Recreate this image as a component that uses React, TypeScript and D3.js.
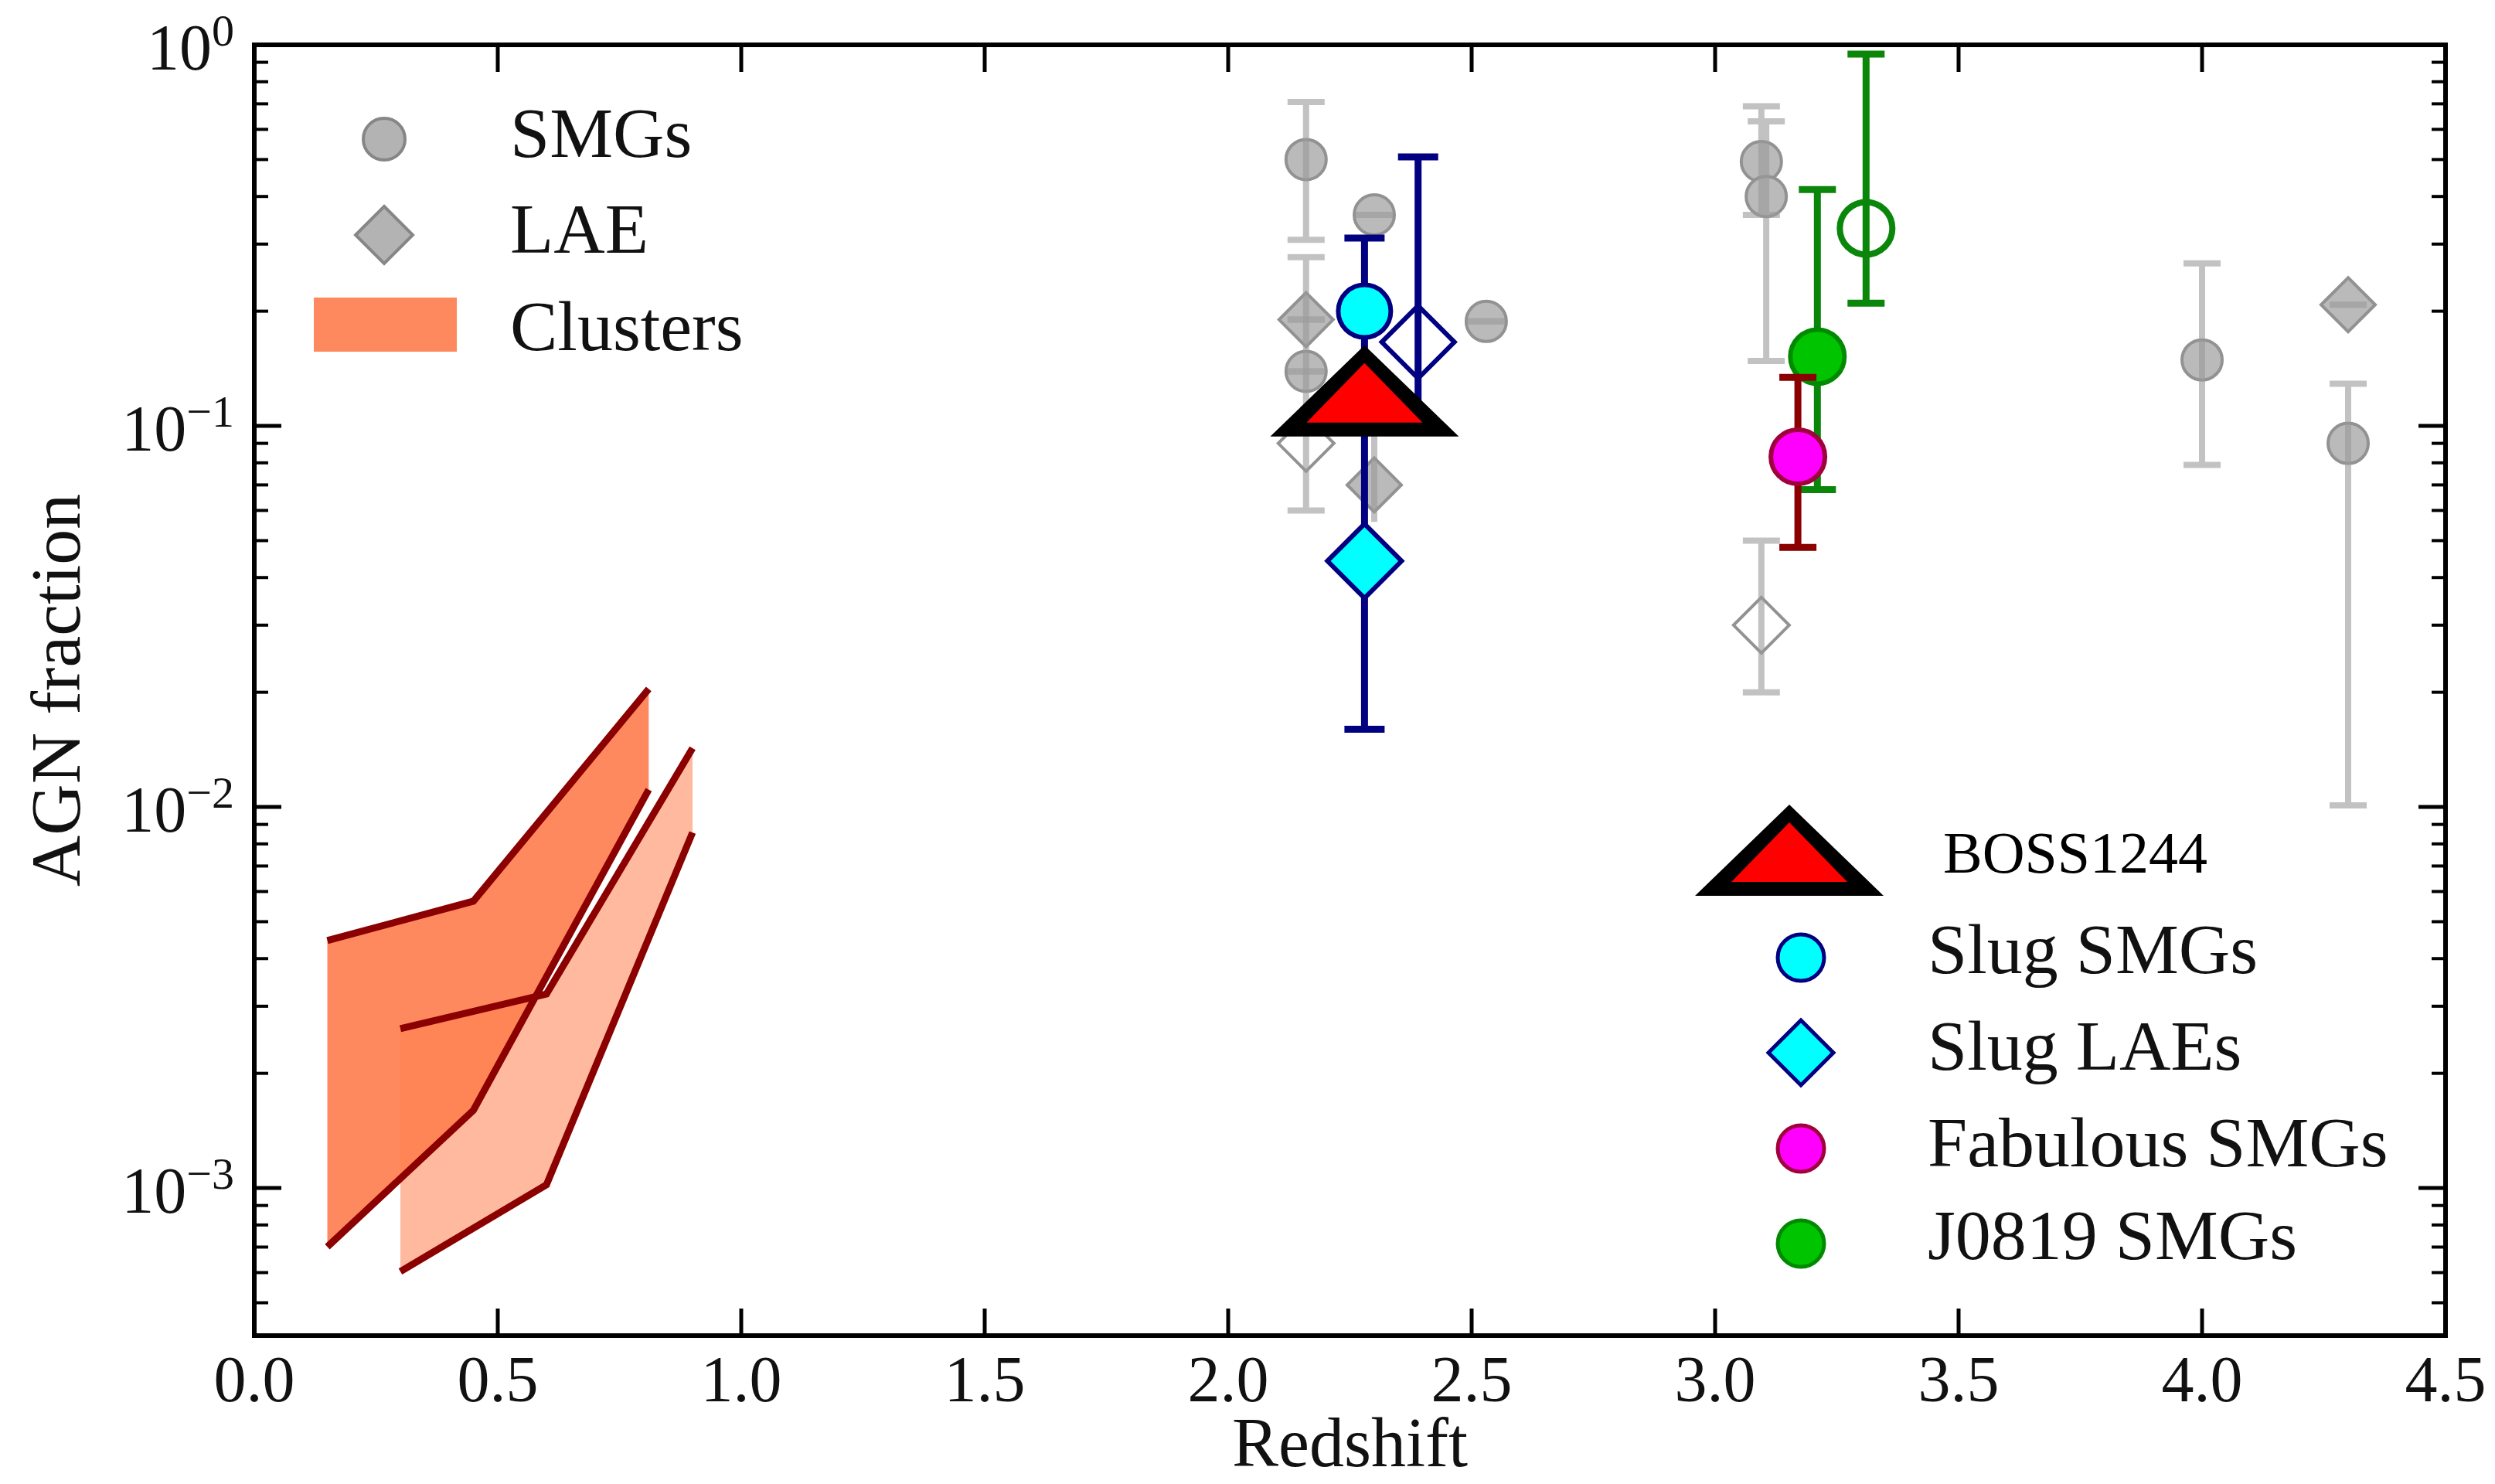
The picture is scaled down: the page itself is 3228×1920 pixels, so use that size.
import React from "react";
import * as d3 from "d3";

// ---------- data ----------
// Literature SMGs (grey circles)
const smgZ = [2.16, 2.16, 2.30, 2.53, 3.095, 3.105, 4.0, 4.3];
const smgF = [0.50, 0.139, 0.358, 0.188, 0.494, 0.40, 0.149, 0.090];
const smgLo = [0.308, 0.139, 0.358, 0.188, 0.358, 0.148, 0.079, 0.0101];
const smgHi = [0.708, 0.139, 0.358, 0.188, 0.69, 0.63, 0.267, 0.129];

// Literature LAEs (grey filled diamonds); laeCap = whether the bar ends carry caps
const laeZ = [2.16, 2.30, 4.3];
const laeF = [0.19, 0.070, 0.208];
const laeLo = [0.19, 0.056, 0.208];
const laeHi = [0.19, 0.10, 0.208];
const laeCap = [true, false, true];

// Literature LAEs (grey open diamonds)
const laeOpenZ = [2.16, 3.095];
const laeOpenF = [0.090, 0.030];
const laeOpenLo = [0.060, 0.020];
const laeOpenHi = [0.277, 0.050];

// Slug nebula field
const slugSmgZ = [2.28];
const slugSmgF = [0.20];
const slugSmgLo = [0.10];
const slugSmgHi = [0.311];

const slugLaeZ = [2.28];
const slugLaeF = [0.0442];
const slugLaeLo = [0.016];
const slugLaeHi = [0.10];

const slugLaeOpenZ = [2.39];
const slugLaeOpenF = [0.166];
const slugLaeOpenLo = [0.10];
const slugLaeOpenHi = [0.508];

// Fabulous field
const fabZ = [3.17];
const fabF = [0.083];
const fabLo = [0.048];
const fabHi = [0.134];

// J0819 field
const j0819Z = [3.21];
const j0819F = [0.152];
const j0819Lo = [0.068];
const j0819Hi = [0.417];

const j0819OpenZ = [3.31];
const j0819OpenF = [0.33];
const j0819OpenLo = [0.21];
const j0819OpenHi = [0.946];

// BOSS1244
const bossZ = [2.28];
const bossF = [0.123];

// Low-redshift clusters (two bands)
const clusterAZ = [0.15, 0.45, 0.81];
const clusterAHi = [0.00446, 0.00566, 0.0204];
const clusterALo = [0.000701, 0.0016, 0.0111];
const clusterBZ = [0.30, 0.60, 0.90];
const clusterBHi = [0.00262, 0.00323, 0.01426];
const clusterBLo = [0.000604, 0.00102, 0.00857];

// Axis ticks
const xTicks = [0, 0.5, 1.0, 1.5, 2.0, 2.5, 3.0, 3.5, 4.0, 4.5];
const yMajor = [1, 0.1, 0.01, 0.001];
const yExp = ["0", "\u22121", "\u22122", "\u22123"];

// ---------- layout ----------
const W = 3228;
const H = 1920;
const left = 329;
const right = 3164;
const top = 58;
const bottom = 1728;

const x = d3.scaleLinear().domain([0, 4.5]).range([left, right]);
const y = d3.scaleLog().domain([4.1e-4, 1]).range([bottom, top]);

const FONT = "'Liberation Serif', 'Times New Roman', serif";

const GREY_FILL = "#b3b3b3";
const GREY_EDGE = "#868686";
const GREY_BAR = "#9a9a9a";
const NAVY = "#000080";
const CYAN = "#00ffff";
const GREEN_BAR = "#0a870a";
const GREEN_FILL = "#00c400";
const DARKRED = "#8b0000";
const CORAL = "#ff7f50";

const diamond = (h: number) => `M0,${-h}L${h},0L0,${h}L${-h},0Z`;
const triOuter = "M0,-60L122,58L-122,58Z";
const triInner = "M0,-37L75,40L-75,40Z";

function ErrorBars({
  zs, lo, hi, color, width, cap, opacity = 1, caps,
}: {
  zs: number[]; lo: number[]; hi: number[]; color: string; width: number; cap: number;
  opacity?: number; caps?: boolean[];
}) {
  return (
    <g stroke={color} strokeWidth={width} opacity={opacity} fill="none">
      {zs.map((z, i) => {
        const cx = x(z);
        const y0 = y(lo[i]);
        const y1 = y(hi[i]);
        const withCaps = caps ? caps[i] : true;
        return (
          <g key={i}>
            {Math.abs(y0 - y1) > 0.5 && <line x1={cx} x2={cx} y1={y0} y2={y1} />}
            {withCaps && <line x1={cx - cap} x2={cx + cap} y1={y0} y2={y0} />}
            {withCaps && <line x1={cx - cap} x2={cx + cap} y1={y1} y2={y1} />}
          </g>
        );
      })}
    </g>
  );
}

export default function App() {
  const areaA = d3
    .area<number>()
    .x((_, i) => x(clusterAZ[i]))
    .y0((_, i) => y(clusterALo[i]))
    .y1((_, i) => y(clusterAHi[i]));
  const areaB = d3
    .area<number>()
    .x((_, i) => x(clusterBZ[i]))
    .y0((_, i) => y(clusterBLo[i]))
    .y1((_, i) => y(clusterBHi[i]));
  const lineOf = (zs: number[], vs: number[]) =>
    d3.line<number>().x((_, i) => x(zs[i])).y((v) => y(v))(vs) as string;

  const minorTicks: number[] = [];
  for (let k = -4; k <= -1; k++) {
    for (let m = 2; m <= 9; m++) {
      const v = m * Math.pow(10, k);
      if (v >= 4.1e-4 && v < 1) minorTicks.push(v);
    }
  }

  return (
    <svg
      width={W}
      height={H}
      viewBox={`0 0 ${W} ${H}`}
      style={{ position: "absolute", left: 0, top: 0, background: "#fff" }}
      fontFamily={FONT}
    >
      <rect x={0} y={0} width={W} height={H} fill="#fff" />
      <defs>
        <clipPath id="plotArea">
          <rect x={left} y={top} width={right - left} height={bottom - top} />
        </clipPath>
      </defs>

      <g clipPath="url(#plotArea)">
        {/* cluster bands */}
        <path d={areaA(clusterAZ) as string} fill={CORAL} opacity={0.92} />
        <path d={areaB(clusterBZ) as string} fill={CORAL} opacity={0.55} />
        <g stroke={DARKRED} strokeWidth={9} fill="none" strokeLinejoin="miter">
          <path d={lineOf(clusterAZ, clusterAHi)} />
          <path d={lineOf(clusterAZ, clusterALo)} />
          <path d={lineOf(clusterBZ, clusterBHi)} />
          <path d={lineOf(clusterBZ, clusterBLo)} />
        </g>

        {/* grey literature points */}
        <g fill={GREY_FILL} stroke={GREY_EDGE} strokeWidth={4} opacity={0.9}>
          {smgZ.map((z, i) => (
            <circle key={`s${i}`} cx={x(z)} cy={y(smgF[i])} r={26} />
          ))}
          {laeZ.map((z, i) => (
            <path key={`l${i}`} d={diamond(35)} transform={`translate(${x(z)},${y(laeF[i])})`} />
          ))}
          {laeOpenZ.map((z, i) => (
            <path key={`o${i}`} d={diamond(36)} fill="none" transform={`translate(${x(z)},${y(laeOpenF[i])})`} />
          ))}
        </g>
        <ErrorBars zs={smgZ} lo={smgLo} hi={smgHi} color={GREY_BAR} width={8} cap={24} opacity={0.6} />
        <ErrorBars zs={laeZ} lo={laeLo} hi={laeHi} color={GREY_BAR} width={8} cap={24} opacity={0.6} caps={laeCap} />
        <ErrorBars zs={laeOpenZ} lo={laeOpenLo} hi={laeOpenHi} color={GREY_BAR} width={8} cap={24} opacity={0.6} />

        {/* Slug field */}
        <ErrorBars zs={slugLaeOpenZ} lo={slugLaeOpenLo} hi={slugLaeOpenHi} color={NAVY} width={9} cap={26} />
        {slugLaeOpenZ.map((z, i) => (
          <path key={`so${i}`} d={diamond(47)} fill="none" stroke={NAVY} strokeWidth={6}
            transform={`translate(${x(z)},${y(slugLaeOpenF[i])})`} />
        ))}
        <ErrorBars zs={slugSmgZ} lo={slugSmgLo} hi={slugSmgHi} color={NAVY} width={9} cap={26} />
        <ErrorBars zs={slugLaeZ} lo={slugLaeLo} hi={slugLaeHi} color={NAVY} width={9} cap={26} />
        {slugLaeZ.map((z, i) => (
          <path key={`sl${i}`} d={diamond(48)} fill={CYAN} stroke={NAVY} strokeWidth={6}
            transform={`translate(${x(z)},${y(slugLaeF[i])})`} />
        ))}
        {slugSmgZ.map((z, i) => (
          <circle key={`ss${i}`} cx={x(z)} cy={y(slugSmgF[i])} r={34} fill={CYAN} stroke={NAVY} strokeWidth={6} />
        ))}

        {/* J0819 field */}
        <ErrorBars zs={j0819OpenZ} lo={j0819OpenLo} hi={j0819OpenHi} color={GREEN_BAR} width={9} cap={24} />
        {j0819OpenZ.map((z, i) => (
          <circle key={`jo${i}`} cx={x(z)} cy={y(j0819OpenF[i])} r={34} fill="none" stroke={GREEN_BAR} strokeWidth={8} />
        ))}
        <ErrorBars zs={j0819Z} lo={j0819Lo} hi={j0819Hi} color={GREEN_BAR} width={9} cap={24} />
        {j0819Z.map((z, i) => (
          <circle key={`j${i}`} cx={x(z)} cy={y(j0819F[i])} r={35} fill={GREEN_FILL} stroke="#008a00" strokeWidth={6} />
        ))}

        {/* Fabulous field */}
        <ErrorBars zs={fabZ} lo={fabLo} hi={fabHi} color={DARKRED} width={9} cap={24} />
        {fabZ.map((z, i) => (
          <circle key={`f${i}`} cx={x(z)} cy={y(fabF[i])} r={35} fill="#ff00ff" stroke="#a0003c" strokeWidth={6} />
        ))}

        {/* BOSS1244 */}
        {bossZ.map((z, i) => (
          <g key={`b${i}`} transform={`translate(${x(z)},${y(bossF[i])})`}>
            <path d={triOuter} fill="#000" />
            <path d={triInner} fill="#ff0000" />
          </g>
        ))}
      </g>

      {/* axes frame and ticks */}
      <g stroke="#000">
        {xTicks.map((t, i) => (
          <g key={`xt${i}`} strokeWidth={5}>
            <line x1={x(t)} x2={x(t)} y1={bottom} y2={bottom - 35} />
            <line x1={x(t)} x2={x(t)} y1={top} y2={top + 35} />
          </g>
        ))}
        {yMajor.map((v, i) => (
          <g key={`ym${i}`} strokeWidth={5}>
            <line x1={left} x2={left + 35} y1={y(v)} y2={y(v)} />
            <line x1={right} x2={right - 35} y1={y(v)} y2={y(v)} />
          </g>
        ))}
        {minorTicks.map((v, i) => (
          <g key={`yn${i}`} strokeWidth={4}>
            <line x1={left} x2={left + 18} y1={y(v)} y2={y(v)} />
            <line x1={right} x2={right - 18} y1={y(v)} y2={y(v)} />
          </g>
        ))}
        <rect x={left} y={top} width={right - left} height={bottom - top} fill="none" strokeWidth={6} />
      </g>

      {/* tick labels */}
      <g fontSize={84} fill="#111" textAnchor="middle">
        {xTicks.map((t, i) => (
          <text key={`xl${i}`} x={x(t)} y={1813}>{t.toFixed(1)}</text>
        ))}
      </g>
      <g fontSize={84} fill="#111" textAnchor="end">
        {yMajor.map((v, i) => (
          <text key={`yl${i}`} x={303} y={y(v) + 32}>
            10
            <tspan fontSize={58} dy={-31}>{yExp[i]}</tspan>
          </text>
        ))}
      </g>

      {/* axis titles */}
      <text x={x(2.25)} y={1897} fontSize={90} textAnchor="middle" fill="#111">Redshift</text>
      <text x={103} y={(top + bottom) / 2} fontSize={92} textAnchor="middle" fill="#111"
        transform={`rotate(-90, 103, ${(top + bottom) / 2})`}>AGN fraction</text>

      {/* legend: literature samples */}
      <g fontSize={92} fill="#111">
        <circle cx={497} cy={180} r={27} fill={GREY_FILL} stroke={GREY_EDGE} strokeWidth={4} />
        <text x={660} y={203}>SMGs</text>
        <path d={diamond(37)} transform="translate(497,304)" fill={GREY_FILL} stroke={GREY_EDGE} strokeWidth={4} />
        <text x={660} y={327}>LAE</text>
        <rect x={406} y={385} width={185} height={70} fill={CORAL} opacity={0.92} />
        <text x={660} y={453}>Clusters</text>
      </g>

      {/* legend: protocluster fields */}
      <g fontSize={92} fill="#111">
        <g transform="translate(2315,1101)">
          <path d={triOuter} fill="#000" />
          <path d={triInner} fill="#ff0000" />
        </g>
        <text x={2514} y={1129} fontSize={76} fill="#000">BOSS1244</text>
        <circle cx={2330} cy={1239} r={30} fill={CYAN} stroke={NAVY} strokeWidth={5} />
        <text x={2494} y={1259}>Slug SMGs</text>
        <path d={diamond(42)} transform="translate(2330,1362)" fill={CYAN} stroke={NAVY} strokeWidth={5} />
        <text x={2494} y={1384}>Slug LAEs</text>
        <circle cx={2330} cy={1486} r={30} fill="#ff00ff" stroke="#a0003c" strokeWidth={5} />
        <text x={2494} y={1509}>Fabulous SMGs</text>
        <circle cx={2330} cy={1609} r={30} fill={GREEN_FILL} stroke="#008a00" strokeWidth={5} />
        <text x={2494} y={1629}>J0819 SMGs</text>
      </g>
    </svg>
  );
}
